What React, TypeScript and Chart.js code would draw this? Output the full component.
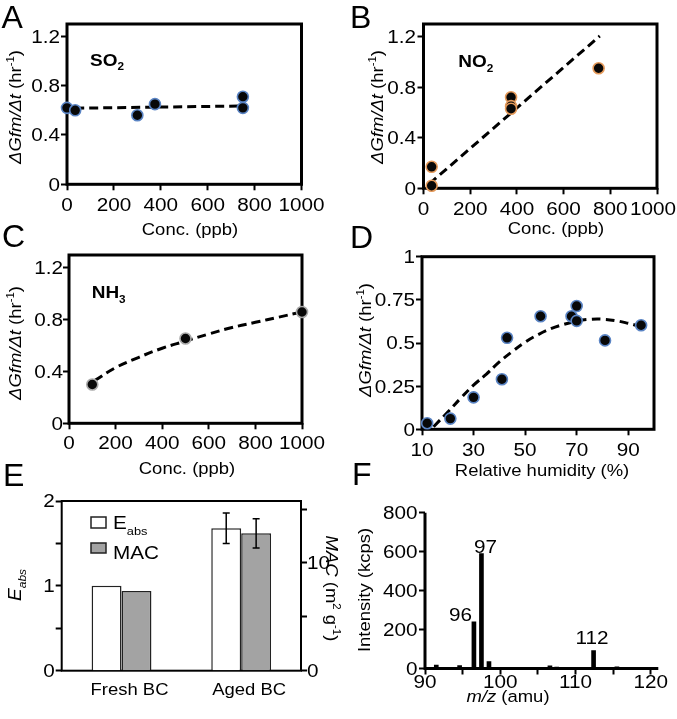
import { useEffect, useRef } from "react";
import { Chart, registerables } from "chart.js";

Chart.register(...registerables);

// ================= DATA =================
// Panels A–C: concentration (ppb) vs ΔGfm/Δt (hr⁻¹)
const concTicks = [0, 200, 400, 600, 800, 1000];
const concTickLabels = ["0", "200", "400", "600", "800", "1000"];
const rateTicks = [0, 0.4, 0.8, 1.2];
const rateTickLabels = ["0", "0.4", "0.8", "1.2"];

// A: SO2
const so2Conc = [0, 35, 300, 375, 750, 750];
const so2Rate = [0.62, 0.6, 0.56, 0.65, 0.71, 0.62];
const so2FitConc = [35, 750];
const so2FitRate = [0.617, 0.635];

// B: NO2
const no2Conc = [35, 35, 375, 375, 375, 750];
const no2Rate = [0.17, 0.02, 0.72, 0.65, 0.63, 0.95];
const no2FitConc = [25, 755];
const no2FitRate = [0.035, 1.205];

// C: NH3
const nh3Conc = [100, 500, 1000];
const nh3Rate = [0.3, 0.655, 0.86];
const nh3FitConc = [110, 200, 300, 400, 500, 600, 700, 800, 900, 1000];
const nh3FitRate = [0.33, 0.43, 0.51, 0.58, 0.635, 0.69, 0.74, 0.78, 0.82, 0.86];

// D: relative humidity
const rhTicks = [10, 30, 50, 70, 90];
const rhTickLabels = ["10", "30", "50", "70", "90"];
const rhRateTicks = [0, 0.25, 0.5, 0.75, 1];
const rhRateTickLabels = ["0", "0.25", "0.5", "0.75", "1"];
const rhValues = [12, 21, 30, 41, 43, 56, 68, 70, 70, 81, 95];
const rhRate = [0.035, 0.062, 0.185, 0.29, 0.53, 0.655, 0.655, 0.714, 0.628, 0.515, 0.603];
const rhFitValues = [14.5, 20, 25, 30, 35, 40, 45, 50, 55, 60, 65, 70, 75, 80, 85, 90, 95];
const rhFitRate = [0.015, 0.1, 0.18, 0.256, 0.32, 0.39, 0.45, 0.505, 0.548, 0.583, 0.608, 0.627, 0.637, 0.638, 0.63, 0.614, 0.595];

// E: absorption enhancement / MAC
const bcCategories = ["Fresh BC", "Aged BC"];
const eabsValues = [1.0, 1.68];
const eabsErrors = [0, 0.18];
const macValues = [7.4, 12.75];
const macErrors = [0, 1.36];
const eabsTicks = [0, 0.5, 1, 1.5, 2];
const eabsTickLabels = ["0", "", "1", "", "2"];
const macTicks = [0, 5, 10, 15];
const macTickLabels = ["0", "", "10", ""];

// F: mass spectrum
const mzValues = [91.5, 94.6, 96.5, 97.5, 98.5, 99.5, 101.5, 106.6, 107.5, 109.3, 110.5, 112.4, 113.5, 114.6, 115.5, 117.4];
const intensityValues = [18, 15, 240, 590, 35, 4, 3, 14, 7, 3, 3, 92, 6, 6, 8, 4];
const mzTicks = [90, 95, 100, 105, 110, 115, 120];
const mzTickLabels = ["90", "", "100", "", "110", "", "120"];
const intensityTicks = [0, 200, 400, 600, 800];
const intensityTickLabels = ["0", "200", "400", "600", "800"];
const peakLabels = ["96", "97", "112"];
const peakIndices = [2, 3, 11];

// ================= STYLE / HELPERS =================
const FONT = '"Liberation Sans", Arial, Helvetica, sans-serif';
const TICK_SIZE = 18;
const TICK_SX = 1.15;
const TITLE_SIZE = 16.8;
const TITLE_SX = 1.1;
const LETTER_SIZE = 32;

type Seg = { t: string; i?: boolean; b?: boolean; sub?: boolean; sup?: boolean };
type TextItem = { segs: Seg[]; x: number; y: number; size: number; align?: string; rot?: number; sx?: number };
type Rect = { x: number; y: number; w: number; h: number };
type Area = { l: number; t: number; r: number; b: number };

const xy = (xs: number[], ys: number[]) => xs.map((x, i) => ({ x, y: ys[i] }));

function segFont(s: Seg, size: number) {
  const sz = s.sub || s.sup ? size * 0.62 : size;
  return `${s.i ? "italic " : ""}${s.b ? "bold " : ""}${sz}px ${FONT}`;
}

function drawRich(ctx: CanvasRenderingContext2D, segs: Seg[], x: number, y: number, size: number, align = "left", rot = 0, sx = 1) {
  const widths = segs.map((s) => {
    ctx.font = segFont(s, size);
    return ctx.measureText(s.t).width;
  });
  const total = widths.reduce((a, b) => a + b, 0);
  if (rot === 0 && align === "center") {
    // keep horizontal labels inside the canvas
    const half = (total * sx) / 2;
    const maxX = ctx.canvas.width - 1 - half;
    if (x > maxX) x = maxX;
  }
  ctx.save();
  ctx.translate(x, y);
  ctx.rotate((rot * Math.PI) / 180);
  ctx.scale(sx, 1);
  let cx = align === "center" ? -total / 2 : align === "right" ? -total : 0;
  const base = 0.36 * size;
  ctx.fillStyle = "#000";
  ctx.textAlign = "left";
  ctx.textBaseline = "alphabetic";
  segs.forEach((s, k) => {
    ctx.font = segFont(s, size);
    const dy = s.sub ? size * 0.28 : s.sup ? -size * 0.42 : 0;
    ctx.fillText(s.t, cx, base + dy);
    cx += widths[k];
  });
  ctx.restore();
}

const rateTitle: Seg[] = [{ t: "ΔGfm/Δt", i: true }, { t: " (hr" }, { t: "-1", sup: true }, { t: ")" }];

const gridTicks = {
  display: true,
  drawOnChartArea: false,
  drawTicks: true,
  tickLength: 6,
  tickWidth: 2,
  tickColor: "#000",
  color: "#000",
};

function fixedAxis(base: any, ticks: number[], size: { w?: number; h?: number }, grid: any = gridTicks) {
  return {
    ...base,
    ticks: { display: false },
    border: { display: false },
    grid,
    afterBuildTicks: (s: any) => {
      s.ticks = ticks.map((v) => ({ value: v }));
    },
    afterFit: (s: any) => {
      if (size.w !== undefined) s.width = size.w;
      if (size.h !== undefined) s.height = size.h;
    },
  };
}

function drawTexts(ctx: CanvasRenderingContext2D, rect: Rect, texts: TextItem[]) {
  texts.forEach((t) => drawRich(ctx, t.segs, t.x - rect.x, t.y - rect.y, t.size, t.align ?? "center", t.rot ?? 0, t.sx ?? 1));
}

const baseOptions = (rect: Rect, area: Area, rightPad: boolean) => ({
  animation: false,
  responsive: false,
  devicePixelRatio: 1,
  layout: { padding: { top: area.t - rect.y, right: rightPad ? rect.x + rect.w - area.r : 0, left: 0, bottom: 0 } },
  plugins: { legend: { display: false }, tooltip: { enabled: false } },
});

// ================= SCATTER PANELS =================
interface ScatterSpec {
  rect: Rect;
  area: Area;
  xMin: number; xMax: number; yMin: number; yMax: number;
  xTicks: number[]; xLabels: string[]; yTicks: number[]; yLabels: string[];
  xGap: number; yGap: number;
  points: { x: number; y: number }[];
  edge: string;
  fit: { x: number; y: number }[];
  tension: number;
  texts: TextItem[];
}

function makeScatter(canvas: HTMLCanvasElement, s: ScatterSpec) {
  const { rect, area } = s;
  const overlay = {
    id: "overlay",
    beforeDatasetsDraw(chart: any) {
      const ctx = chart.ctx;
      const ca = chart.chartArea;
      ctx.save();
      ctx.strokeStyle = "#000";
      ctx.lineWidth = 3;
      ctx.strokeRect(ca.left, ca.top, ca.right - ca.left, ca.bottom - ca.top);
      ctx.restore();
    },
    afterDraw(chart: any) {
      const ctx = chart.ctx;
      const ca = chart.chartArea;
      const xs = chart.scales.x;
      const ys = chart.scales.y;
      s.xTicks.forEach((v, i) => drawRich(ctx, [{ t: s.xLabels[i] }], xs.getPixelForValue(v), ca.bottom + s.xGap, TICK_SIZE, "center", 0, TICK_SX));
      s.yTicks.forEach((v, i) => drawRich(ctx, [{ t: s.yLabels[i] }], ca.left - s.yGap, ys.getPixelForValue(v), TICK_SIZE, "right", 0, TICK_SX));
      drawTexts(ctx, rect, s.texts);
    },
  };
  return new Chart(canvas, {
    type: "scatter",
    data: {
      datasets: [
        {
          data: s.fit,
          showLine: true,
          pointRadius: 0,
          borderColor: "#000",
          borderWidth: 3,
          borderDash: [9, 5],
          tension: s.tension,
          fill: false,
          order: 2,
        },
        {
          data: s.points,
          showLine: false,
          pointRadius: 5.5,
          pointBorderWidth: 1.6,
          pointBackgroundColor: "#080808",
          pointBorderColor: s.edge,
          clip: false,
          order: 1,
        },
      ],
    } as any,
    options: {
      ...baseOptions(rect, area, true),
      scales: {
        x: fixedAxis({ type: "linear", min: s.xMin, max: s.xMax }, s.xTicks, { h: rect.y + rect.h - area.b }),
        y: fixedAxis({ type: "linear", min: s.yMin, max: s.yMax }, s.yTicks, { w: area.l - rect.x }),
      },
    } as any,
    plugins: [overlay],
  });
}

const BLUE_EDGE = "#5a84c4";
const ORANGE_EDGE = "#e59a5a";
const GRAY_EDGE = "#a9a9a9";
const LABEL_SIZE = 16.5;
const LABEL_SX = 1.15;

const specA: ScatterSpec = {
  rect: { x: 0, y: 0, w: 340, h: 242 },
  area: { l: 67, t: 24, r: 301.5, b: 184.3 },
  xMin: 0, xMax: 1000, yMin: 0, yMax: 1.3,
  xTicks: concTicks, xLabels: concTickLabels, yTicks: rateTicks, yLabels: rateTickLabels,
  xGap: 20.5, yGap: 7,
  points: xy(so2Conc, so2Rate), edge: BLUE_EDGE,
  fit: xy(so2FitConc, so2FitRate), tension: 0,
  texts: [
    { segs: [{ t: "A" }], x: 1.5, y: 16.5, size: LETTER_SIZE, align: "left" },
    { segs: rateTitle, x: 15, y: 107, size: TITLE_SIZE, rot: -90, sx: TITLE_SX },
    { segs: [{ t: "Conc. (ppb)" }], x: 190, y: 229, size: TITLE_SIZE, sx: TITLE_SX },
    { segs: [{ t: "SO", b: true }, { t: "2", b: true, sub: true }], x: 90, y: 59.7, size: LABEL_SIZE, align: "left", sx: LABEL_SX },
  ],
};

const specB: ScatterSpec = {
  rect: { x: 340, y: 0, w: 337, h: 242 },
  area: { l: 423.5, t: 24, r: 657, b: 188.3 },
  xMin: 0, xMax: 1000, yMin: 0, yMax: 1.3,
  xTicks: concTicks, xLabels: concTickLabels, yTicks: rateTicks, yLabels: rateTickLabels,
  xGap: 20, yGap: 7.5,
  points: xy(no2Conc, no2Rate), edge: ORANGE_EDGE,
  fit: xy(no2FitConc, no2FitRate), tension: 0,
  texts: [
    { segs: [{ t: "B" }], x: 350, y: 16.5, size: LETTER_SIZE, align: "left" },
    { segs: rateTitle, x: 377, y: 107, size: TITLE_SIZE, rot: -90, sx: TITLE_SX },
    { segs: [{ t: "Conc. (ppb)" }], x: 556, y: 228.3, size: TITLE_SIZE, sx: TITLE_SX },
    { segs: [{ t: "NO", b: true }, { t: "2", b: true, sub: true }], x: 458.3, y: 61, size: LABEL_SIZE, align: "left", sx: LABEL_SX },
  ],
};

const specC: ScatterSpec = {
  rect: { x: 0, y: 215, w: 340, h: 266 },
  area: { l: 69, t: 255, r: 302, b: 423.3 },
  xMin: 0, xMax: 1000, yMin: 0, yMax: 1.3,
  xTicks: concTicks, xLabels: concTickLabels, yTicks: rateTicks, yLabels: rateTickLabels,
  xGap: 19.5, yGap: 6,
  points: xy(nh3Conc, nh3Rate), edge: GRAY_EDGE,
  fit: xy(nh3FitConc, nh3FitRate), tension: 0.4,
  texts: [
    { segs: [{ t: "C" }], x: 2, y: 235.5, size: LETTER_SIZE, align: "left" },
    { segs: rateTitle, x: 15, y: 343, size: TITLE_SIZE, rot: -90, sx: TITLE_SX },
    { segs: [{ t: "Conc. (ppb)" }], x: 187, y: 468, size: TITLE_SIZE, sx: TITLE_SX },
    { segs: [{ t: "NH", b: true }, { t: "3", b: true, sub: true }], x: 91.7, y: 292, size: LABEL_SIZE, align: "left", sx: LABEL_SX },
  ],
};

const specD: ScatterSpec = {
  rect: { x: 340, y: 215, w: 337, h: 266 },
  area: { l: 422, t: 256.7, r: 654, b: 429.3 },
  xMin: 10, xMax: 100, yMin: 0, yMax: 1,
  xTicks: rhTicks, xLabels: rhTickLabels, yTicks: rhRateTicks, yLabels: rhRateTickLabels,
  xGap: 20.7, yGap: 7,
  points: xy(rhValues, rhRate), edge: BLUE_EDGE,
  fit: xy(rhFitValues, rhFitRate), tension: 0.4,
  texts: [
    { segs: [{ t: "D" }], x: 350, y: 236, size: LETTER_SIZE, align: "left" },
    { segs: rateTitle, x: 365, y: 340, size: TITLE_SIZE, rot: -90, sx: TITLE_SX },
    { segs: [{ t: "Relative humidity (%)" }], x: 542, y: 470, size: TITLE_SIZE, sx: TITLE_SX },
  ],
};

// ================= PANEL E =================
const rectE: Rect = { x: 0, y: 455, w: 345, h: 264 };
const areaE: Area = { l: 61.7, t: 501, r: 301, b: 670.7 };

function makeE(canvas: HTMLCanvasElement) {
  const rect = rectE;
  const area = areaE;
  const errs = [eabsErrors, macErrors];
  const overlay = {
    id: "overlayE",
    beforeDatasetsDraw(chart: any) {
      const ctx = chart.ctx;
      const ca = chart.chartArea;
      ctx.save();
      ctx.strokeStyle = "#000";
      ctx.lineWidth = 2;
      ctx.strokeRect(ca.left, ca.top, ca.right - ca.left, ca.bottom - ca.top);
      ctx.restore();
    },
    afterDatasetsDraw(chart: any) {
      const ctx = chart.ctx;
      ctx.save();
      ctx.strokeStyle = "#000";
      ctx.lineWidth = 1.5;
      chart.data.datasets.forEach((ds: any, di: number) => {
        const meta = chart.getDatasetMeta(di);
        const sc = chart.scales[ds.yAxisID];
        ds.data.forEach((v: number, k: number) => {
          const e = errs[di][k];
          if (!e) return;
          const x = meta.data[k].x;
          const y1 = sc.getPixelForValue(v + e);
          const y2 = sc.getPixelForValue(v - e);
          ctx.beginPath();
          ctx.moveTo(x, y1);
          ctx.lineTo(x, y2);
          ctx.moveTo(x - 3.5, y1);
          ctx.lineTo(x + 3.5, y1);
          ctx.moveTo(x - 3.5, y2);
          ctx.lineTo(x + 3.5, y2);
          ctx.stroke();
        });
      });
      ctx.restore();
    },
    afterDraw(chart: any) {
      const ctx = chart.ctx;
      const ca = chart.chartArea;
      const xs = chart.scales.x;
      const ys = chart.scales.y;
      const y1s = chart.scales.y1;
      bcCategories.forEach((c, i) => drawRich(ctx, [{ t: c }], xs.getPixelForValue(i) + 8, ca.bottom + 18.3, TITLE_SIZE, "center", 0, TITLE_SX));
      eabsTicks.forEach((v, i) => {
        if (eabsTickLabels[i]) drawRich(ctx, [{ t: eabsTickLabels[i] }], ca.left - 7, ys.getPixelForValue(v), TICK_SIZE, "right", 0, TICK_SX);
      });
      macTicks.forEach((v, i) => {
        if (macTickLabels[i]) drawRich(ctx, [{ t: macTickLabels[i] }], ca.right + 6, y1s.getPixelForValue(v), TICK_SIZE, "left", 0, TICK_SX);
      });
      // legend
      const lx = 91 - rect.x;
      ctx.save();
      ctx.lineWidth = 1.5;
      ctx.strokeStyle = "#222";
      ctx.fillStyle = "#ffffff";
      ctx.fillRect(lx, 517 - rect.y, 15, 11);
      ctx.strokeRect(lx, 517 - rect.y, 15, 11);
      ctx.fillStyle = "#a3a3a3";
      ctx.fillRect(lx, 543 - rect.y, 15, 10);
      ctx.strokeRect(lx, 543 - rect.y, 15, 10);
      ctx.restore();
      drawTexts(ctx, rect, [
        { segs: [{ t: "E" }, { t: "abs", sub: true }], x: 113, y: 523, size: TICK_SIZE, align: "left", sx: TICK_SX },
        { segs: [{ t: "MAC" }], x: 113, y: 553, size: TICK_SIZE, align: "left", sx: TICK_SX },
        { segs: [{ t: "E" }], x: 3, y: 474, size: LETTER_SIZE, align: "left" },
        { segs: [{ t: "E", i: true }, { t: "abs", i: true, sub: true }], x: 15, y: 585, size: 17.5, rot: -90, sx: TITLE_SX },
        {
          segs: [{ t: "MAC", i: true }, { t: " (m" }, { t: "2", sup: true }, { t: " g" }, { t: "-1", sup: true }, { t: ")" }],
          x: 332, y: 588.5, size: TITLE_SIZE, rot: 90, sx: TITLE_SX,
        },
      ]);
    },
  };
  return new Chart(canvas, {
    type: "bar",
    data: {
      labels: bcCategories,
      datasets: [
        { label: "Eabs", data: eabsValues, yAxisID: "y", backgroundColor: "#ffffff", borderColor: "#222", borderWidth: 1.5, categoryPercentage: 0.5, barPercentage: 1.0 },
        { label: "MAC", data: macValues, yAxisID: "y1", backgroundColor: "#a3a3a3", borderColor: "#222", borderWidth: 1.5, categoryPercentage: 0.5, barPercentage: 1.0 },
      ],
    } as any,
    options: {
      ...baseOptions(rect, area, false),
      scales: {
        x: {
          type: "category",
          ticks: { display: false },
          border: { display: false },
          grid: { display: false },
          afterFit: (s: any) => {
            s.height = rect.y + rect.h - area.b;
          },
        },
        y: fixedAxis({ type: "linear", position: "left", min: 0, max: 2 }, eabsTicks, { w: area.l - rect.x }),
        y1: fixedAxis({ type: "linear", position: "right", min: 0, max: 15.75 }, macTicks, { w: rect.x + rect.w - area.r }),
      },
    } as any,
    plugins: [overlay],
  });
}

// ================= PANEL F =================
const rectF: Rect = { x: 345, y: 455, w: 332, h: 264 };
const areaF: Area = { l: 425, t: 512.7, r: 658.3, b: 668.5 };
const peakLabelStyle = [
  { dx: -2, dy: -7, align: "right" },
  { dx: 4, dy: -7, align: "center" },
  { dx: -1.5, dy: -13, align: "center" },
];

function makeF(canvas: HTMLCanvasElement) {
  const rect = rectF;
  const area = areaF;
  const overlay = {
    id: "overlayF",
    beforeDatasetsDraw(chart: any) {
      const ctx = chart.ctx;
      const ca = chart.chartArea;
      ctx.save();
      ctx.strokeStyle = "#000";
      ctx.lineWidth = 3;
      ctx.lineJoin = "miter";
      ctx.beginPath();
      ctx.moveTo(ca.left, ca.top);
      ctx.lineTo(ca.left, ca.bottom);
      ctx.lineTo(ca.right, ca.bottom);
      ctx.stroke();
      ctx.restore();
    },
    afterDraw(chart: any) {
      const ctx = chart.ctx;
      const ca = chart.chartArea;
      const xs = chart.scales.x;
      const ys = chart.scales.y;
      mzTicks.forEach((v, i) => {
        if (mzTickLabels[i]) drawRich(ctx, [{ t: mzTickLabels[i] }], xs.getPixelForValue(v), ca.bottom + 13, TICK_SIZE, "center", 0, TICK_SX);
      });
      intensityTicks.forEach((v, i) => drawRich(ctx, [{ t: intensityTickLabels[i] }], ca.left - 7.5, ys.getPixelForValue(v), TICK_SIZE, "right", 0, TICK_SX));
      peakIndices.forEach((idx, k) => {
        const st = peakLabelStyle[k];
        const x = xs.getPixelForValue(mzValues[idx]) + st.dx;
        const y = ys.getPixelForValue(intensityValues[idx]) + st.dy;
        drawRich(ctx, [{ t: peakLabels[k] }], x, y, TICK_SIZE, st.align, 0, TICK_SX);
      });
      drawTexts(ctx, rect, [
        { segs: [{ t: "F" }], x: 352, y: 473, size: LETTER_SIZE, align: "left" },
        { segs: [{ t: "Intensity (kcps)" }], x: 363.5, y: 590, size: TITLE_SIZE, rot: -90, sx: TITLE_SX },
        { segs: [{ t: "m/z", i: true }, { t: " (amu)" }], x: 508, y: 696, size: TITLE_SIZE, sx: TITLE_SX },
      ]);
    },
  };
  return new Chart(canvas, {
    type: "bar",
    data: {
      datasets: [
        {
          data: xy(mzValues, intensityValues),
          backgroundColor: "#000",
          borderWidth: 0,
          barThickness: 4,
        },
      ],
    } as any,
    options: {
      ...baseOptions(rect, area, true),
      scales: {
        x: fixedAxis({ type: "linear", min: 90, max: 121, offset: false }, mzTicks, { h: rect.y + rect.h - area.b }, { ...gridTicks, offset: false }),
        y: fixedAxis({ type: "linear", min: 0, max: 800 }, intensityTicks, { w: area.l - rect.x }),
      },
    } as any,
    plugins: [overlay],
  });
}

// ================= REACT =================
function ChartCanvas({ rect, make }: { rect: Rect; make: (c: HTMLCanvasElement) => Chart }) {
  const ref = useRef<HTMLCanvasElement>(null);
  useEffect(() => {
    const chart = make(ref.current as HTMLCanvasElement);
    return () => chart.destroy();
  }, []);
  return (
    <canvas
      ref={ref}
      width={rect.w}
      height={rect.h}
      style={{ position: "absolute", left: rect.x, top: rect.y, width: rect.w, height: rect.h }}
    />
  );
}

export default function App() {
  return (
    <div style={{ position: "absolute", left: 0, top: 0, width: 677, height: 719, background: "#fff", overflow: "hidden" }}>
      <ChartCanvas rect={specA.rect} make={(c) => makeScatter(c, specA)} />
      <ChartCanvas rect={specB.rect} make={(c) => makeScatter(c, specB)} />
      <ChartCanvas rect={specC.rect} make={(c) => makeScatter(c, specC)} />
      <ChartCanvas rect={specD.rect} make={(c) => makeScatter(c, specD)} />
      <ChartCanvas rect={rectE} make={makeE} />
      <ChartCanvas rect={rectF} make={makeF} />
    </div>
  );
}
